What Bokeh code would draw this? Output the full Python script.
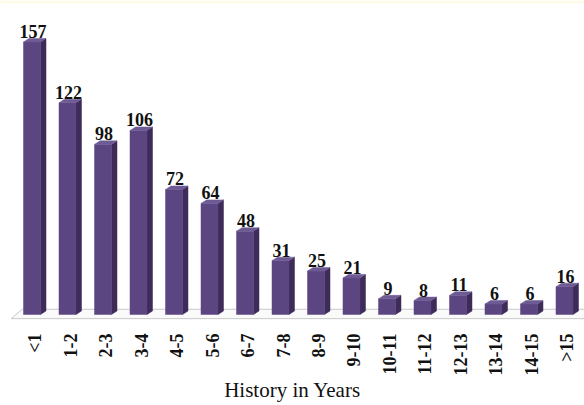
from bokeh.plotting import figure
from bokeh.models import Range1d, FixedTicker, ColumnDataSource, BoxAnnotation
from bokeh.embed import file_html
from bokeh.resources import INLINE
from bokeh.core.properties import value
import math

categories = ["<1", "1-2", "2-3", "3-4", "4-5", "5-6", "6-7", "7-8", "8-9", "9-10",
              "10-11", "11-12", "12-13", "13-14", "14-15", ">15"]
counts = [157, 122, 98, 106, 72, 64, 48, 31, 25, 21, 9, 8, 11, 6, 6, 16]
x_title = "History in Years"

PX = 1 / 35.5          # one pixel in x data units
PY = 1 / 1.73          # one pixel in y data units
front_l, front_r = -11.5 * PX, 5.5 * PX
depth_x, depth_y = 5.5 * PX, 3.5 * PY

p = figure(width=584, height=405, output_backend="svg", toolbar_location=None,
           x_range=Range1d(-0.972, 15.479), y_range=Range1d(-4.05, 180.9),
           min_border_left=0, min_border_right=0, min_border_top=0, min_border_bottom=80)
p.background_fill_color = "white"
p.border_fill_color = "white"
p.outline_line_color = None
p.grid.visible = False
p.yaxis.visible = False

# yellow strip at top
p.add_layout(BoxAnnotation(bottom=179.2, fill_color="#FFFBE6", fill_alpha=1, line_color=None))

# floor
fy0, fy1 = -2.4, 3.0
p.patch([-0.67, 15.6, 15.6, -0.36], [fy0, fy0, fy1, fy1],
        fill_color="#FAFAFA", line_color="#C8C8C8", line_width=1)

idx = list(range(len(categories)))
fronts_x, fronts_y, sides_x, sides_y, tops_x, tops_y = [], [], [], [], [], []
for i, v in zip(idx, counts):
    l, r = i + front_l, i + front_r
    fronts_x.append([l, r, r, l]); fronts_y.append([0, 0, v, v])
    sides_x.append([r, r + depth_x, r + depth_x, r]); sides_y.append([0, depth_y, v + depth_y, v])
    tops_x.append([l, r, r + depth_x, l + depth_x]); tops_y.append([v, v, v + depth_y, v + depth_y])

p.patches(sides_x, sides_y, fill_color="#3D2B58", line_color="#3D2B58", line_width=0.5)
p.patches(fronts_x, fronts_y, fill_color="#5C4682", line_color="#5C4682", line_width=0.5)
p.patches(tops_x, tops_y, fill_color="#6E5B94", line_color="#6E5B94", line_width=0.5)

src = ColumnDataSource(dict(x=[i + (front_l + front_r) / 2 + 1 * PX for i in idx],
                            y=[v + 4 * PY for v in counts],
                            t=[str(v) for v in counts]))
p.text(x="x", y="y", text="t", source=src, text_align="center", text_baseline="bottom",
       text_font=value("Liberation Serif"), text_font_style="bold", text_font_size="18px",
       text_color="#111111")

ax = p.xaxis[0]
ax.ticker = FixedTicker(ticks=idx)
ax.major_label_overrides = {i: c for i, c in zip(idx, categories)}
ax.major_label_orientation = math.pi / 2
ax.major_label_text_font = "Liberation Serif"
ax.major_label_text_font_style = "bold"
ax.major_label_text_font_size = "18px"
ax.major_label_text_color = "#111111"
ax.major_label_standoff = 12
ax.axis_line_color = None
ax.major_tick_line_color = None
ax.minor_tick_line_color = None
ax.major_tick_out = 0
ax.major_tick_in = 0
ax.axis_label = x_title
ax.axis_label_text_font = "Liberation Serif"
ax.axis_label_text_font_style = "normal"
ax.axis_label_text_font_size = "21px"
ax.axis_label_text_color = "#111111"
ax.axis_label_standoff = 0

open("out.html", "w").write(file_html(p, INLINE))
